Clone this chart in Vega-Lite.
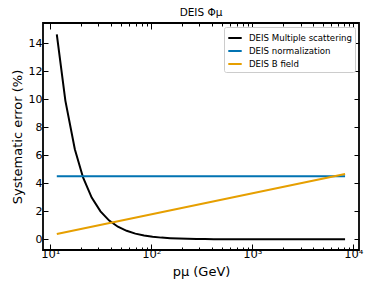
{
  "$schema": "https://vega.github.io/schema/vega-lite/v6.json",
  "width": 316,
  "height": 227,
  "autosize": {"type": "none"},
  "padding": {"left": 43, "top": 23, "right": 15, "bottom": 49},
  "background": "white",
  "config": {
    "font": "DejaVu Sans",
    "view": {"stroke": "black", "strokeWidth": 1.8},
    "axis": {"domain": false, "grid": false, "tickColor": "black", "tickWidth": 1, "labelColor": "black", "titleColor": "black", "labelFont": "DejaVu Sans", "titleFont": "DejaVu Sans", "titleFontWeight": "normal"}
  },
  "title": {"text": "DEIS Φμ", "fontSize": 10.5, "fontWeight": "normal", "font": "DejaVu Sans", "color": "black", "offset": 4},
  "data": {
    "values": [
      {"p": 11.6, "err": 14.64, "series": "DEIS Multiple scattering"},
      {"p": 14.1, "err": 9.91, "series": "DEIS Multiple scattering"},
      {"p": 17.5, "err": 6.43, "series": "DEIS Multiple scattering"},
      {"p": 21.1, "err": 4.42, "series": "DEIS Multiple scattering"},
      {"p": 25.7, "err": 2.98, "series": "DEIS Multiple scattering"},
      {"p": 31.4, "err": 2.0, "series": "DEIS Multiple scattering"},
      {"p": 38.3, "err": 1.34, "series": "DEIS Multiple scattering"},
      {"p": 46.7, "err": 0.9, "series": "DEIS Multiple scattering"},
      {"p": 57, "err": 0.61, "series": "DEIS Multiple scattering"},
      {"p": 69.5, "err": 0.41, "series": "DEIS Multiple scattering"},
      {"p": 84.8, "err": 0.27, "series": "DEIS Multiple scattering"},
      {"p": 103, "err": 0.186, "series": "DEIS Multiple scattering"},
      {"p": 126, "err": 0.124, "series": "DEIS Multiple scattering"},
      {"p": 154, "err": 0.083, "series": "DEIS Multiple scattering"},
      {"p": 188, "err": 0.056, "series": "DEIS Multiple scattering"},
      {"p": 229, "err": 0.038, "series": "DEIS Multiple scattering"},
      {"p": 280, "err": 0.025, "series": "DEIS Multiple scattering"},
      {"p": 341, "err": 0.017, "series": "DEIS Multiple scattering"},
      {"p": 416, "err": 0.011, "series": "DEIS Multiple scattering"},
      {"p": 508, "err": 0.008, "series": "DEIS Multiple scattering"},
      {"p": 620, "err": 0.005, "series": "DEIS Multiple scattering"},
      {"p": 1000, "err": 0.002, "series": "DEIS Multiple scattering"},
      {"p": 2000, "err": 0.0005, "series": "DEIS Multiple scattering"},
      {"p": 5000, "err": 0.0001, "series": "DEIS Multiple scattering"},
      {"p": 8280, "err": 0.00003, "series": "DEIS Multiple scattering"},
      {"p": 11.6, "err": 4.5, "series": "DEIS normalization"},
      {"p": 8280, "err": 4.5, "series": "DEIS normalization"},
      {"p": 11.6, "err": 0.38, "series": "DEIS B field"},
      {"p": 8280, "err": 4.66, "series": "DEIS B field"}
    ]
  },
  "layer": [
    {
      "mark": {"type": "line", "strokeWidth": 2, "clip": true},
      "encoding": {
        "x": {
          "field": "p", "type": "quantitative",
          "scale": {"type": "log", "domain": [8.47, 11380], "nice": false},
          "axis": {
            "orient": "bottom",
            "title": "pμ (GeV)",
            "titleFontSize": 13,
            "titlePadding": 3,
            "labelFontSize": 11.5,
            "labelOverlap": false,
            "labelFlush": false,
            "labelPadding": 4,
            "values": [10, 20, 30, 40, 50, 60, 70, 80, 90, 100, 200, 300, 400, 500, 600, 700, 800, 900, 1000, 2000, 3000, 4000, 5000, 6000, 7000, 8000, 9000, 10000],
            "labelExpr": "datum.value == 10 ? '10¹' : datum.value == 100 ? '10²' : datum.value == 1000 ? '10³' : datum.value == 10000 ? '10⁴' : ''",
            "tickSize": {"condition": {"test": "datum.value == 10 || datum.value == 100 || datum.value == 1000 || datum.value == 10000", "value": -6}, "value": -3}
          }
        },
        "y": {
          "field": "err", "type": "quantitative",
          "scale": {"domain": [-0.76, 15.45], "nice": false, "zero": false},
          "axis": {
            "orient": "left",
            "title": "Systematic error (%)",
            "titleFontSize": 13,
            "titlePadding": 4,
            "labelFontSize": 11,
            "labelPadding": 6,
            "values": [0, 2, 4, 6, 8, 10, 12, 14],
            "tickSize": -5
          }
        },
        "color": {
          "field": "series", "type": "nominal",
          "scale": {"domain": ["DEIS Multiple scattering", "DEIS normalization", "DEIS B field"], "range": ["#000000", "#0173b2", "#e69f00"]},
          "legend": {
            "title": null,
            "orient": "top-right",
            "offset": 4,
            "symbolType": "stroke",
            "symbolSize": 180,
            "symbolStrokeWidth": 2,
            "labelFontSize": 8.6,
            "labelOffset": 6,
            "labelColor": "black",
            "labelFont": "DejaVu Sans",
            "rowPadding": 0,
            "padding": 3,
            "strokeColor": "#cccccc",
            "fillColor": "white",
            "cornerRadius": 2
          }
        }
      }
    },
    {
      "mark": {"type": "point", "opacity": 0},
      "encoding": {
        "x": {
          "field": "p", "type": "quantitative",
          "axis": {
            "orient": "top", "title": null, "labels": false,
            "values": [10, 20, 30, 40, 50, 60, 70, 80, 90, 100, 200, 300, 400, 500, 600, 700, 800, 900, 1000, 2000, 3000, 4000, 5000, 6000, 7000, 8000, 9000, 10000],
            "tickSize": {"condition": {"test": "datum.value == 10 || datum.value == 100 || datum.value == 1000 || datum.value == 10000", "value": -6}, "value": -3}
          }
        },
        "y": {
          "field": "err", "type": "quantitative",
          "axis": {"orient": "right", "title": null, "labels": false, "values": [0, 2, 4, 6, 8, 10, 12, 14], "tickSize": -5}
        }
      }
    }
  ],
  "resolve": {"axis": {"x": "independent", "y": "independent"}}
}
